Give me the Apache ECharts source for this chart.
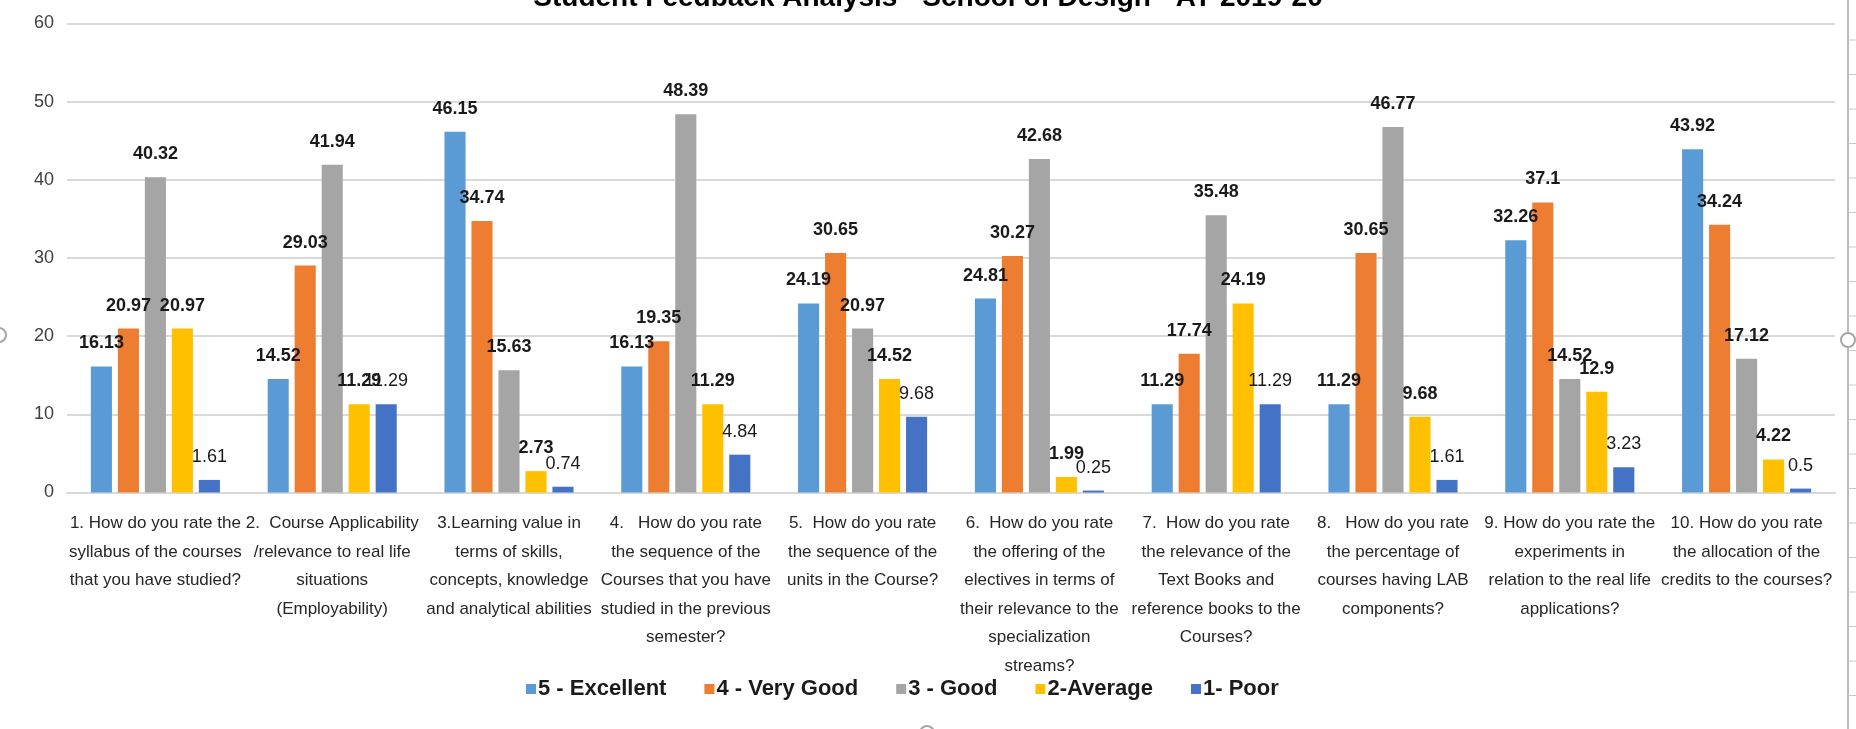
<!DOCTYPE html>
<html>
<head>
<meta charset="utf-8">
<script src="https://cdn.jsdelivr.net/npm/echarts@6/dist/echarts.min.js"></script>
<style>
html,body{margin:0;padding:0;background:#fff;}
#chart{width:1856px;height:729px;}
</style>
</head>
<body>
<div id="chart"></div>
<script>
const titleText = 'Student Feedback Analysis - School of Design - AY 2019-20';
const categories = [
  '1. How do you rate the\nsyllabus of the courses\nthat you have studied?',
  '2.  Course Applicability\n/relevance to real life\nsituations\n(Employability)',
  '3.Learning value in\nterms of skills,\nconcepts, knowledge\nand analytical abilities',
  '4.   How do you rate\nthe sequence of the\nCourses that you have\nstudied in the previous\nsemester?',
  '5.  How do you rate\nthe sequence of the\nunits in the Course?',
  '6.  How do you rate\nthe offering of the\nelectives in terms of\ntheir relevance to the\nspecialization\nstreams?',
  '7.  How do you rate\nthe relevance of the\nText Books and\nreference books to the\nCourses?',
  '8.   How do you rate\nthe percentage of\ncourses having LAB\ncomponents?',
  '9. How do you rate the\nexperiments in\nrelation to the real life\napplications?',
  '10. How do you rate\nthe allocation of the\ncredits to the courses?'
];
const seriesNames = ['5 - Excellent', '4 - Very Good', '3 - Good', '2-Average', '1- Poor'];
const excellent = [16.13, 14.52, 46.15, 16.13, 24.19, 24.81, 11.29, 11.29, 32.26, 43.92];
const veryGood  = [20.97, 29.03, 34.74, 19.35, 30.65, 30.27, 17.74, 30.65, 37.1, 34.24];
const good      = [40.32, 41.94, 15.63, 48.39, 20.97, 42.68, 35.48, 46.77, 14.52, 17.12];
const average   = [20.97, 11.29, 2.73, 11.29, 14.52, 1.99, 24.19, 9.68, 12.9, 4.22];
const poor      = [1.61, 11.29, 0.74, 4.84, 9.68, 0.25, 11.29, 1.61, 3.23, 0.5];
const yTicks = [0, 10, 20, 30, 40, 50, 60];

const seriesData = [excellent, veryGood, good, average, poor];
const colors = ['#5B9BD5', '#ED7D31', '#A5A5A5', '#FFC000', '#4472C4'];
const FONT = '"Liberation Sans Narrow", "Liberation Sans", Arial, sans-serif';

const chart = echarts.init(document.getElementById('chart'), null, {renderer: 'canvas'});

const series = seriesData.map((d, i) => ({
  name: seriesNames[i],
  type: 'bar',
  data: d,
  barGap: '28%',
  barCategoryGap: '27%',
  itemStyle: {color: colors[i]},
  label: {
    show: true,
    position: 'top',
    distance: 14,
    color: '#1a1a1a',
    fontFamily: FONT,
    fontSize: 18,
    fontWeight: i === 4 ? 'normal' : 'bold'
  }
}));

// decorative frame of the screenshot (selection handles / sheet rows)
const graphics = [
  {type: 'line', shape: {x1: 1848, y1: 0, x2: 1848, y2: 729}, style: {stroke: '#A6A6A6', lineWidth: 1.5}, silent: true},
  {type: 'circle', shape: {cx: 1848, cy: 340, r: 7}, style: {fill: '#fff', stroke: '#A6A6A6', lineWidth: 2}, silent: true},
  {type: 'circle', shape: {cx: -1, cy: 335, r: 7}, style: {fill: '#fff', stroke: '#A6A6A6', lineWidth: 2}, silent: true},
  {type: 'circle', shape: {cx: 927, cy: 733, r: 7}, style: {fill: '#fff', stroke: '#A6A6A6', lineWidth: 2}, silent: true}
];
for (let k = 0; k < 21; k++) {
  const y = 40 + k * 34.5;
  graphics.push({type: 'line', shape: {x1: 1849, y1: y, x2: 1856, y2: y}, style: {stroke: '#C8C8C8', lineWidth: 1}, silent: true});
}

chart.setOption({
  animation: false,
  backgroundColor: '#fff',
  color: colors,
  title: {
    text: titleText,
    left: 'center',
    top: -21,
    textStyle: {fontFamily: FONT, fontSize: 28, fontWeight: 'bold', color: '#000'}
  },
  legend: {
    data: seriesNames,
    bottom: 24,
    left: 521,
    itemWidth: 10,
    itemHeight: 10,
    itemGap: 38,
    icon: 'rect',
    textStyle: {fontFamily: FONT, fontSize: 22, fontWeight: 'bold', color: '#1a1a1a', padding: [0, 0, 0, -3]}
  },
  grid: {left: 67, right: 21, top: 23.5, bottom: 236.5, containLabel: false},
  xAxis: {
    type: 'category',
    data: categories,
    axisLine: {show: true, lineStyle: {color: '#D9D9D9', width: 2}},
    axisTick: {show: false},
    axisLabel: {
      interval: 0,
      margin: 17,
      fontFamily: FONT,
      fontSize: 17,
      lineHeight: 28.5,
      color: '#262626',
      align: 'center'
    }
  },
  yAxis: {
    type: 'value',
    min: yTicks[0],
    max: yTicks[yTicks.length - 1],
    interval: 10,
    axisLine: {show: false},
    axisTick: {show: false},
    splitLine: {lineStyle: {color: '#D9D9D9', width: 2}},
    axisLabel: {fontFamily: FONT, fontSize: 18, color: '#404040', margin: 13}
  },
  graphic: graphics,
  series: series
});
</script>
</body>
</html>
